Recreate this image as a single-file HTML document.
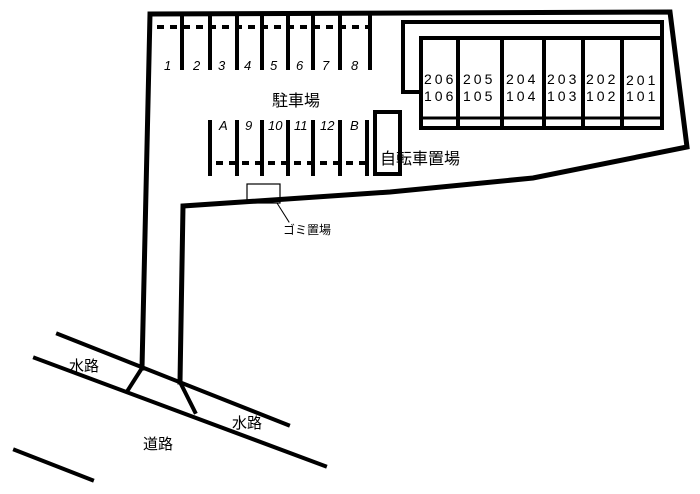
<!DOCTYPE html>
<html><head><meta charset="utf-8"><style>
html,body{margin:0;padding:0;background:#fff;}
svg{display:block}
text{font-family:"Liberation Sans","Noto Sans CJK JP",sans-serif;fill:#000}
</style></head><body>
<svg width="700" height="494" viewBox="0 0 700 494" xmlns="http://www.w3.org/2000/svg">
<g stroke="#000" fill="none" stroke-linecap="square">
<!-- lot outline -->
<polyline points="142,368 150,14 670,12 687,147 533,178 390,192 183,206 180,382" stroke-width="5"/>
<!-- top row parking -->
<g stroke-width="4">
<line x1="182" y1="16" x2="182" y2="68"/><line x1="210" y1="16" x2="210" y2="68"/>
<line x1="237" y1="16" x2="237" y2="68"/><line x1="262" y1="16" x2="262" y2="68"/>
<line x1="288" y1="16" x2="288" y2="68"/><line x1="313" y1="16" x2="313" y2="68"/>
<line x1="340" y1="16" x2="340" y2="68"/><line x1="370" y1="16" x2="370" y2="68"/>
</g>
<line x1="157" y1="27" x2="372" y2="27" stroke-width="4" stroke-dasharray="7,6" stroke-linecap="butt"/>
<!-- bottom row -->
<g stroke-width="4">
<line x1="210" y1="122" x2="210" y2="174"/><line x1="237" y1="122" x2="237" y2="174"/>
<line x1="262" y1="122" x2="262" y2="174"/><line x1="288" y1="122" x2="288" y2="174"/>
<line x1="313" y1="122" x2="313" y2="174"/><line x1="340" y1="122" x2="340" y2="174"/>
<line x1="367" y1="122" x2="367" y2="174"/>
</g>
<line x1="216" y1="163" x2="367" y2="163" stroke-width="4" stroke-dasharray="7,6" stroke-linecap="butt"/>
<!-- bicycle -->
<rect x="375" y="112" width="25" height="62" stroke-width="4"/>
<!-- garbage -->
<rect x="247" y="184" width="33" height="19" stroke-width="1.2"/>
<line x1="277" y1="203" x2="289" y2="222" stroke-width="1"/>
<!-- building -->
<polyline points="421,92 403,92 403,22 662,22 662,38" stroke-width="4"/>
<rect x="421" y="38" width="241" height="90" stroke-width="4"/>
<line x1="421" y1="118" x2="662" y2="118" stroke-width="3"/>
<g stroke-width="4">
<line x1="458" y1="38" x2="458" y2="128"/><line x1="502" y1="38" x2="502" y2="128"/>
<line x1="544" y1="38" x2="544" y2="128"/><line x1="583" y1="38" x2="583" y2="128"/>
<line x1="622" y1="38" x2="622" y2="128"/>
</g>
<!-- canals -->
<g stroke-width="4">
<line x1="58" y1="334" x2="288" y2="425"/>
<line x1="35" y1="358" x2="325" y2="466"/>
<line x1="15" y1="450" x2="92" y2="480"/>
<line x1="142" y1="368" x2="128" y2="390"/>
<line x1="180" y1="382" x2="195" y2="412"/>
</g>
</g>
<g font-size="13" font-style="italic">
<text x="164" y="70">1</text><text x="193" y="70">2</text><text x="218" y="70">3</text>
<text x="244" y="70">4</text><text x="270" y="70">5</text><text x="296" y="70">6</text>
<text x="322" y="70">7</text><text x="351" y="70">8</text>
<text x="219" y="130">A</text><text x="245" y="130">9</text><text x="268" y="130">10</text>
<text x="294" y="130">11</text><text x="320" y="130">12</text><text x="350" y="130">B</text>
</g>
<text x="272" y="106" font-size="16">駐車場</text>
<text x="380" y="164" font-size="16">自転車置場</text>
<text x="283" y="234" font-size="12">ゴミ置場</text>
<g font-size="14" letter-spacing="3">
<text x="424" y="84">206</text><text x="463" y="84">205</text><text x="506" y="84">204</text>
<text x="547" y="84">203</text><text x="586" y="84">202</text><text x="626" y="85">201</text>
<text x="424" y="101">106</text><text x="463" y="101">105</text><text x="506" y="101">104</text>
<text x="547" y="101">103</text><text x="586" y="101">102</text><text x="626" y="101">101</text>
</g>
<text x="69" y="371" font-size="15">水路</text>
<text x="232" y="428" font-size="15">水路</text>
<text x="143" y="449" font-size="15">道路</text>
</svg>
</body></html>
